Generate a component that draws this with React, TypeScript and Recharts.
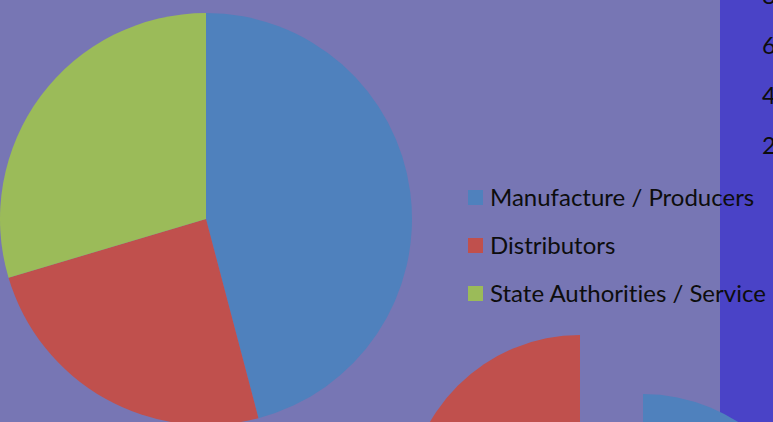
import React from 'react';
import { PieChart, Pie, Cell, Legend } from 'recharts';

const categories = ['Manufacture / Producers', 'Distributors', 'State Authorities / Service'];
const shares = [45.9, 24.5, 29.6];
const sliceColors = ['#4F81BD', '#C0504D', '#9BBB59'];

const redFragment = [{ name: 'Distributors (other chart)', value: 1 }];
const blueFragment = [{ name: 'Manufacture (other chart)', value: 1 }];
const sideAxisTicks = ['8', '6', '4', '2'];

const mainData = categories.map((c, i) => ({ name: c, value: shares[i] }));

const FONT = 'Lato, "Open Sans", sans-serif';

function LegendContent() {
  return (
    <div style={{ whiteSpace: 'nowrap', fontSize: 24, lineHeight: '48px', fontFamily: FONT, fontVariantLigatures: 'none' }}>
      {categories.map((c, i) => (
        <div key={c} style={{ display: 'flex', alignItems: 'center', height: 48 }}>
          <span style={{ display: 'inline-block', width: 15, height: 15, background: sliceColors[i], marginRight: 7 }} />
          <span style={{ color: '#0d0d0d' }}>{c}</span>
        </div>
      ))}
    </div>
  );
}

export default function App() {
  return (
    <div
      style={{
        position: 'fixed',
        left: 0,
        top: 0,
        width: 773,
        height: 422,
        background: '#7776B4',
        overflow: 'hidden',
        fontFamily: FONT,
      }}
    >
      <div style={{ position: 'absolute', left: 720, top: 0, width: 53, height: 422, background: '#4A43C7' }} />
      {sideAxisTicks.map((t, i) => (
        <div
          key={t}
          style={{
            position: 'absolute',
            left: 762,
            top: -5 + i * 50 - 15,
            height: 30,
            lineHeight: '30px',
            fontSize: 24,
            color: '#0d0d0d',
          }}
        >
          {t}
        </div>
      ))}
      <div style={{ position: 'absolute', left: 0, top: 0 }}>
        <PieChart width={773} height={422} margin={{ top: 0, right: 0, bottom: 0, left: 0 }}>
          <Pie
            data={redFragment}
            dataKey="value"
            cx={580}
            cy={508}
            outerRadius={173}
            startAngle={90}
            endAngle={180}
            stroke="none"
            legendType="none"
            isAnimationActive={false}
          >
            <Cell fill="#C0504D" />
          </Pie>
          <Pie
            data={blueFragment}
            dataKey="value"
            cx={643}
            cy={570}
            outerRadius={176}
            startAngle={90}
            endAngle={0}
            stroke="none"
            legendType="none"
            isAnimationActive={false}
          >
            <Cell fill="#4F81BD" />
          </Pie>
          <Pie
            data={mainData}
            dataKey="value"
            nameKey="name"
            cx={206}
            cy={219}
            outerRadius={206}
            startAngle={90}
            endAngle={-270}
            stroke="none"
            isAnimationActive={false}
          >
            {mainData.map((d, i) => (
              <Cell key={d.name} fill={sliceColors[i]} />
            ))}
          </Pie>
          <Legend
            layout="vertical"
            align="right"
            verticalAlign="middle"
            content={<LegendContent />}
            wrapperStyle={{ left: 468, top: 173, width: 320 }}
          />
        </PieChart>
      </div>
    </div>
  );
}
